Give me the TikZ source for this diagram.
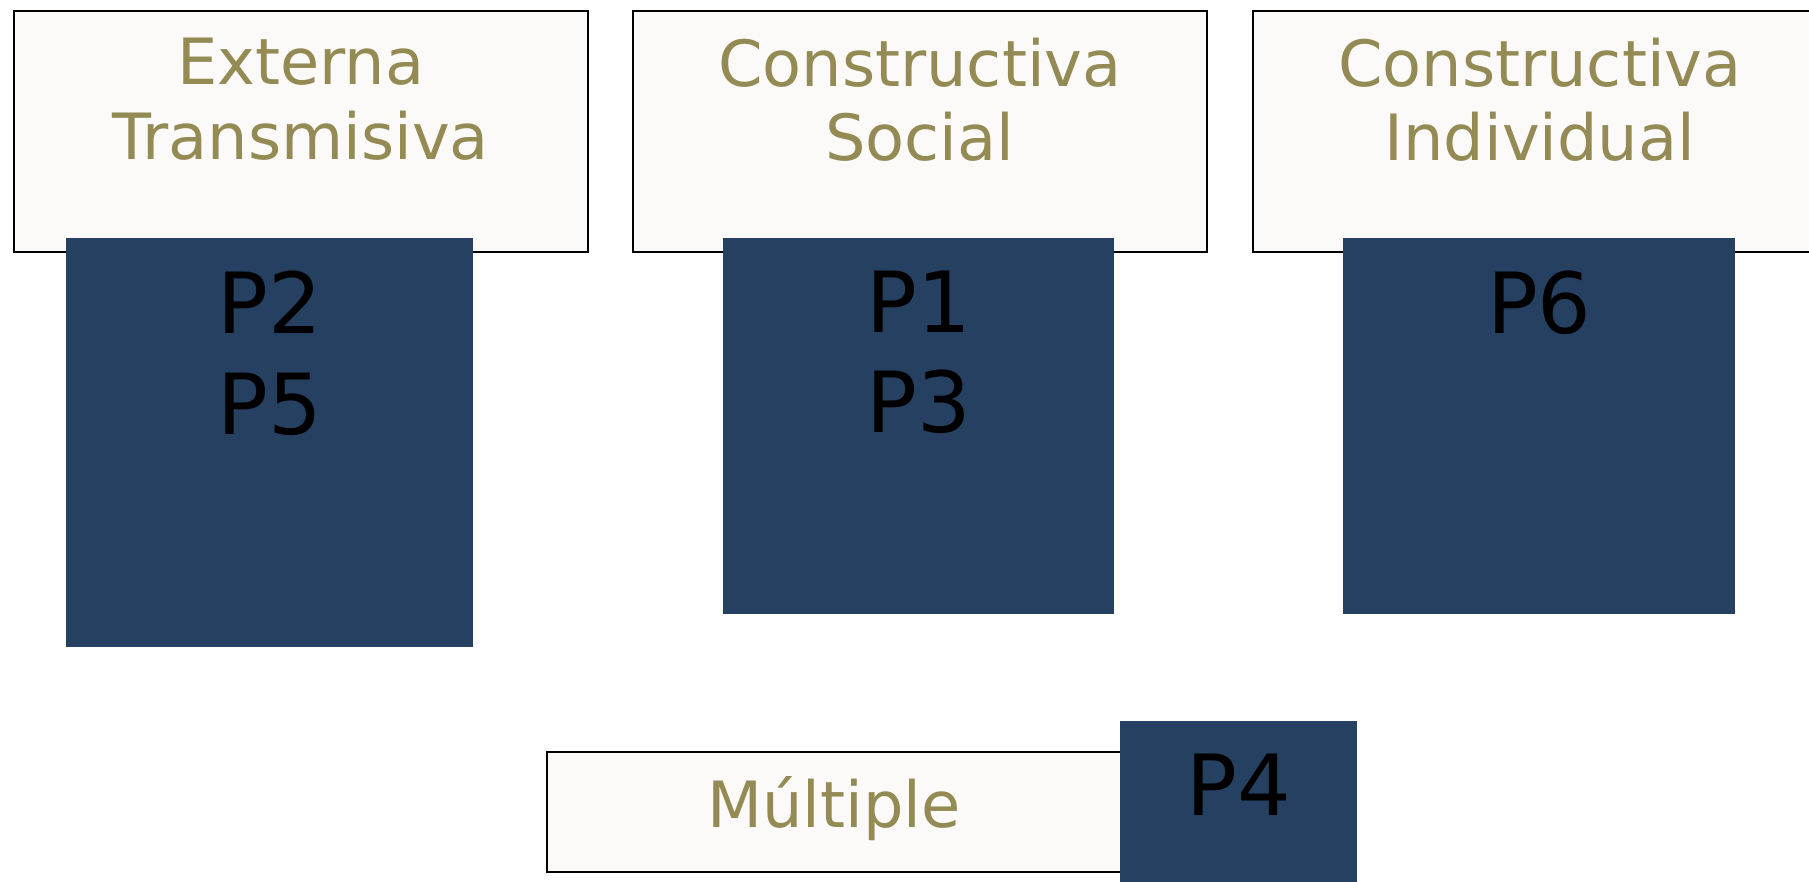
\documentclass[tikz,border=0pt]{standalone}
\usepackage{fontspec}
\setmainfont{DejaVu Sans}
\usetikzlibrary{positioning}
\definecolor{olivetxt}{RGB}{148,138,84}
\definecolor{navyfill}{RGB}{37,64,97}
\definecolor{paper}{RGB}{251,250,249}

\begin{document}
\begin{tikzpicture}[x=0.02cm,y=-0.02cm,
    cat/.style={draw=black,line width=1pt,fill=paper,anchor=north west,inner sep=0pt,minimum width=11.48cm},
    cattext/.style={text=olivetxt,align=center,inner sep=0pt,font=\fontsize{36.3}{42.5}\selectfont},
    group/.style={fill=navyfill,anchor=north west,inner sep=0pt},
    grouptext/.style={text=black,align=center,inner sep=0pt,font=\fontsize{48}{57}\selectfont}]
    \useasboundingbox (0,0) rectangle (1809,882);
    % categorias
    \node[cat,minimum height=4.82cm] (ext) at (13,10) {};
    \node[cat,minimum height=4.82cm] (soc) at (632,10) {};
    \node[cat,minimum height=4.82cm] (ind) at (1252,10) {};
    \node[cat,minimum height=2.4cm] (mul) at (546,751) {};
    \node[cattext,below=0.55cm of ext.north] (extlbl) {Externa\\Transmisiva};
    \node[cattext,below=0.55cm of soc.north] (soclbl) {Constructiva\\Social};
    \node[cattext,below=0.55cm of ind.north] (indlbl) {Constructiva\\Individual};
    \node[cattext,below=0.5cm of mul.north] (mullbl) {Múltiple};
    % profesores
    \node[group,minimum width=8.14cm,minimum height=8.18cm] (gext) at (66,238) {};
    \node[group,minimum width=7.82cm,minimum height=7.52cm] (gsoc) at (723,238) {};
    \node[group,minimum width=7.84cm,minimum height=7.52cm] (gind) at (1343,238) {};
    \node[group,minimum width=4.74cm,minimum height=3.4cm] (gmul) at (1120,721) {};
    \node[grouptext,below=0.66cm of gext.north] (pext) {P2\\P5};
    \node[grouptext,below=0.66cm of gsoc.north] (psoc) {P1\\P3};
    \node[grouptext,below=0.66cm of gind.north] (pind) {P6};
    \node[grouptext,below=0.66cm of gmul.north] (pmul) {P4};
\end{tikzpicture}
\end{document}
